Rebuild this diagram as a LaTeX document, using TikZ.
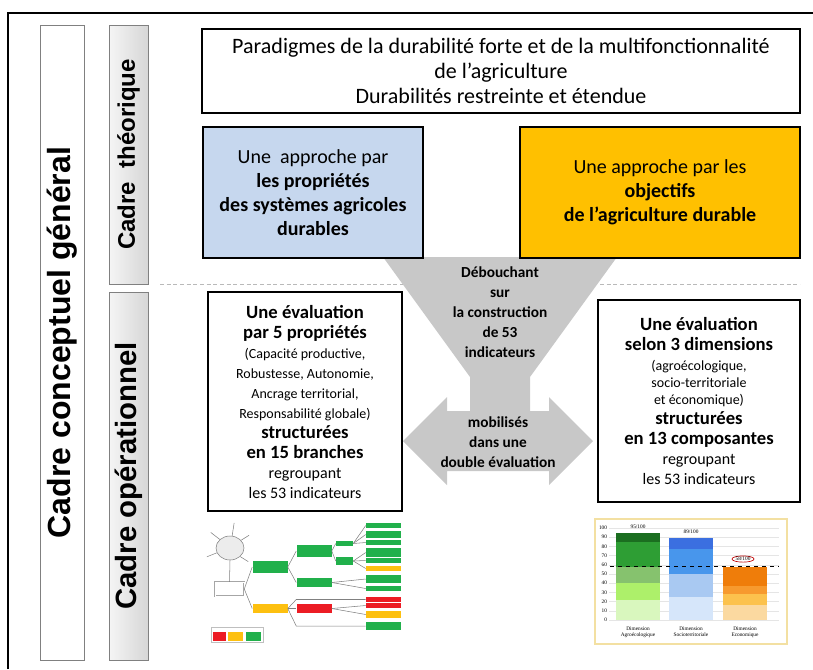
\documentclass[tikz,border=0pt]{standalone}
\usepackage{fontspec}
\setmainfont{Carlito}
\newfontfamily\arialfont{Liberation Sans}
\newfontfamily\chartfont{Liberation Serif}
\usetikzlibrary{shapes.geometric}

\definecolor{propblue}{HTML}{C6D7EE}
\definecolor{objgold}{HTML}{FFC000}
\definecolor{funnelgray}{HTML}{C8C8C8}
\definecolor{bargray}{HTML}{808080}
\definecolor{leafgreen}{HTML}{21B04B}
\definecolor{leafyellow}{HTML}{FDC010}
\definecolor{leafred}{HTML}{EC1C24}
\definecolor{chartrim}{HTML}{F3E0A2}

\newcommand{\bigline}[1]{{\bfseries\fontsize{14}{15}\selectfont #1}}
\newcommand{\smallline}[1]{{\fontsize{10.5}{15}\selectfont #1}}

\tikzset{
  bigbox/.style={draw, line width=1.5pt, align=center, inner sep=0pt},
  sidebar/.style={draw=bargray, line width=0.7pt, rotate=90, inner sep=0pt,
    font=\arialfont\bfseries\fontsize{21}{24}\selectfont},
  leaf/.style={inner sep=0pt, minimum width=26.25pt},
  twig/.style={draw=gray, line width=0.4pt},
  axlabel/.style={font=\chartfont\fontsize{4}{4.6}\selectfont, inner sep=0.5pt},
}

\begin{document}
\begin{tikzpicture}[x=0.75pt, y=-0.75pt]
\useasboundingbox (0,0) rectangle (813,669);
\draw[line width=1.1pt] (8,669) -- (8,13) -- (813,13);

\node[sidebar, fill=white, minimum width=476.25pt, minimum height=33pt,
  font=\arialfont\bfseries\fontsize{24}{28}\selectfont] (general) at (62,342.5) {Cadre conceptuel général};
\node[sidebar, left color=gray!8, right color=gray!32, minimum width=194.25pt, minimum height=29.25pt,
  font=\arialfont\bfseries\fontsize{18}{22}\selectfont] (theo) at (128.5,154.5) {Cadre\ \ théorique};
\node[sidebar, left color=gray!8, right color=gray!32, minimum width=276pt, minimum height=29.25pt,
  font=\arialfont\bfseries\fontsize{22}{26}\selectfont] (oper) at (128.5,476) {Cadre opérationnel};

\draw[gray!55, dash pattern=on 3pt off 2pt, line width=0.5pt] (160,284) -- (800,284);

\fill[funnelgray] (383,257) -- (617,257) -- (530,377) -- (530,411) -- (549,411) -- (549,397)
  -- (593,441) -- (549,485) -- (549,471) -- (447,471) -- (447,485) -- (403,441) -- (447,397)
  -- (447,411) -- (470,411) -- (470,377) -- cycle;

\node[bigbox, minimum width=448.5pt, minimum height=63pt, font=\fontsize{16.5}{18.75}\selectfont]
  (paradigm) at (501,71) {Paradigmes de la durabilité forte et de la multifonctionnalité\\
  de l’agriculture\\Durabilités restreinte et étendue};
\node[bigbox, fill=propblue, minimum width=165pt, minimum height=98.25pt, font=\fontsize{15}{18}\selectfont]
  (prop) at (313,192.5) {Une\ \ approche par\\\textbf{les propriétés}\\
  \textbf{des systèmes agricoles}\\\textbf{durables}};
\node[bigbox, fill=objgold, minimum width=210pt, minimum height=98.25pt, font=\fontsize{15}{18}\selectfont]
  (obj) at (660,192.5) {Une approche par les\\\textbf{objectifs}\\\textbf{de l’agriculture durable}};

\node[font=\bfseries\fontsize{11.5}{15}\selectfont, align=center] (debouch) at (500,312)
  {Débouchant\\sur\\la construction\\de 53\\indicateurs};
\node[font=\bfseries\fontsize{11.5}{15}\selectfont, align=center] (mobil) at (498,442)
  {mobilisés\\dans une\\double évaluation};

\node[bigbox, fill=white, minimum width=145.5pt, minimum height=164.25pt, font=\fontsize{12}{15}\selectfont]
  (evalprop) at (305,401.5) {\bigline{Une évaluation}\\\bigline{par 5 propriétés}\\
  \smallline{(Capacité productive,}\\\smallline{Robustesse, Autonomie,}\\
  \smallline{Ancrage territorial,}\\\smallline{Responsabilité globale)}\\
  \bigline{structurées}\\\bigline{en 15 branches}\\regroupant\\les 53 indicateurs};
\node[bigbox, fill=white, minimum width=151.5pt, minimum height=151.5pt, font=\fontsize{12}{15}\selectfont]
  (evaldim) at (699,401) {\bigline{Une évaluation}\\\bigline{selon 3 dimensions}\\
  \smallline{(agroécologique,}\\[-2pt]\smallline{socio-territoriale}\\[-2pt]
  \smallline{et économique)}\\
  \bigline{structurées}\\\bigline{en 13 composantes}\\regroupant\\les 53 indicateurs};

\node[ellipse, draw=gray, fill=gray!15, minimum width=21pt, minimum height=18pt, inner sep=0pt] (sun) at (230,548) {};
\draw[twig] (sun.80) -- +(2,-13);
\draw[twig] (sun.140) -- +(-9,-7);
\draw[twig] (sun.200) -- +(-10,4);
\draw[twig] (sun.35) -- +(8,-5);
\draw[twig] (sun.320) -- +(8,5);
\node[draw=gray!70, double, fill=white, minimum width=21.75pt, minimum height=10.5pt, inner sep=0pt] (idea) at (229.5,589) {};
\node[leaf, fill=leafgreen, minimum height=9pt] (g1) at (270,567) {};
\node[leaf, fill=leafyellow, minimum height=6.75pt] (y1) at (270,608.5) {};
\node[leaf, fill=leafgreen, minimum height=9pt] (g2) at (314,551) {};
\node[leaf, fill=leafgreen, minimum height=6.75pt] (g3) at (314,582.5) {};
\node[leaf, fill=leafred, minimum height=6.75pt] (r1) at (314,608.5) {};
\node[leaf, fill=leafgreen, minimum width=12.75pt, minimum height=3.75pt] (ga) at (344.5,543.5) {};
\node[leaf, fill=leafgreen, minimum width=12.75pt, minimum height=6pt] (gb) at (344.5,561) {};
\node[leaf, fill=leafgreen, minimum height=3.75pt] (l1) at (383.5,525.5) {};
\node[leaf, fill=leafgreen, minimum height=5.25pt] (l2) at (383.5,534.5) {};
\node[leaf, fill=leafgreen, minimum height=3.75pt] (l3) at (383.5,542.5) {};
\node[leaf, fill=leafgreen, minimum height=6.75pt] (l4) at (383.5,552.5) {};
\node[leaf, fill=leafgreen, minimum height=3.75pt] (l5) at (383.5,560.5) {};
\node[leaf, fill=leafyellow, minimum height=3.75pt] (l6) at (383.5,568.5) {};
\node[leaf, fill=leafgreen, minimum height=6pt] (l7) at (383.5,579) {};
\node[leaf, fill=leafgreen, minimum height=3.75pt] (l8) at (383.5,588.5) {};
\node[leaf, fill=leafred, minimum height=3.75pt] (l9) at (383.5,599.5) {};
\node[leaf, fill=leafred, minimum height=3.75pt] (l10) at (383.5,605.5) {};
\node[leaf, fill=leafyellow, minimum height=5.25pt] (l11) at (383.5,614.5) {};
\node[leaf, fill=leafgreen, minimum height=6pt] (l12) at (383.5,626) {};
\draw[twig] (sun.south) -- (idea.north);
\foreach \a/\b in {idea/g1, idea/y1, g1/g2, g1/g3, g2/ga, g2/gb, ga/l1, ga/l2, ga/l3, gb/l4, gb/l5,
  gb/l6, g3/l7, g3/l8, y1/r1, r1/l10, r1/l11}
  \draw[twig] (\a.east) -- (\b.west);
\draw[twig] (y1.east) -- (r1.west |- l9) -- (l9.west);
\draw[twig] (y1.east) -- (r1.west |- l12) -- (l12.west);
\node[draw=gray!50, line width=0.3pt, minimum width=39pt, minimum height=11.25pt, inner sep=0pt] (legend) at (237,634.5) {};
\node[leaf, fill=leafred, minimum width=9.75pt, minimum height=6.75pt] (lgred) at (219.5,636.5) {};
\node[leaf, fill=leafyellow, minimum width=11.25pt, minimum height=6.75pt] (lgyel) at (235.5,636.5) {};
\node[leaf, fill=leafgreen, minimum width=11.25pt, minimum height=6.75pt] (lggrn) at (253.5,636.5) {};

\node[draw=chartrim, line width=1pt, fill=white, minimum width=144pt, minimum height=93.75pt, inner sep=0pt]
  (chart) at (691,581.5) {};
\foreach \v in {0,10,...,100} {
  \draw[gray!20, line width=0.3pt] (609,{620-0.92*\v}) -- (779,{620-0.92*\v});
  \node[axlabel, anchor=east] (v\v) at (608,{620-0.92*\v}) {\v};
}
\foreach \x/\lo/\hi/\c in {616/0/22/D9F7BE, 616/22/40/ADF06A, 616/40/58/86C26E, 616/58/85/2E9E34,
  616/85/95/1B6E20, 669/0/25/D6E6FA, 669/25/50/A9C9F2, 669/50/77/4896EC, 669/77/89/3B6FE0,
  723/0/16/FBD9A0, 723/16/28/FCC24D, 723/28/37/F79A2E, 723/37/58/EF7D0A} {
  \definecolor{seg}{HTML}{\c}
  \fill[seg] (\x,{620-0.92*\lo}) rectangle ({\x+44},{620-0.92*\hi});
}
\draw[dashed, line width=0.6pt] (610,566.6) -- (779,566.6);
\node[axlabel] (sc1) at (638,527) {95/100};
\node[axlabel] (sc2) at (691,532) {89/100};
\node[axlabel, ellipse, draw=red!75!black, line width=0.5pt, inner sep=0.3pt] (sc3) at (743,559) {58/100};
\node[axlabel, align=center] (d1) at (638,632) {Dimension\\Agroécologique};
\node[axlabel, align=center] (d2) at (691,632) {Dimension\\Socioterritoriale};
\node[axlabel, align=center] (d3) at (745,632) {Dimension\\Economique};
\end{tikzpicture}
\end{document}
